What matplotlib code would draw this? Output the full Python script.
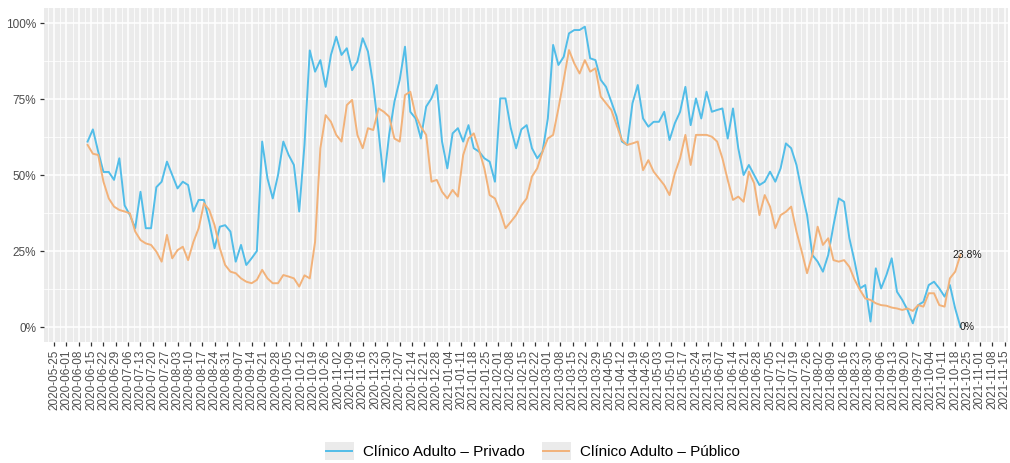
import matplotlib
matplotlib.use("Agg")
import matplotlib.pyplot as plt
import matplotlib.ticker as mticker
from matplotlib.legend_handler import HandlerBase
from matplotlib.lines import Line2D
from matplotlib.patches import Rectangle
import pandas as pd

# ocupação diária, uma leitura a cada 3 dias (em %)
start_date = "2020-06-13"
step_days = 3

privado = [
    61, 65, 57.7, 51, 51, 48.4, 55.5, 40, 36.8, 32.5,
    44.5, 32.5, 32.5, 46, 47.8, 54.4, 50, 45.6, 47.8, 46.7,
    38, 41.8, 41.8, 34.6, 25.9, 33, 33.5, 31.4, 21.5, 27,
    20.4, 22.6, 25, 61, 48.9, 42.3, 50, 61, 56.6, 53.3,
    38, 60,
    91, 84, 87.8, 79, 89.5, 95.5, 89.5, 91.7, 84.5, 87.3,
    95, 90.6, 79.6, 64.3, 47.8, 63.2, 74.1, 81.3, 92.2, 70.8,
    68.6, 62, 72.5, 75.2, 79.6, 61, 52.2, 63.7, 65.4, 61,
    66.4, 58.8, 57.7, 55.5, 54.4, 47.8, 75.2, 75.2, 65.4, 58.8,
    65,
    66.4, 58.8, 55.5, 57.7, 68.6, 92.8, 86.2, 88.9, 96.6, 97.7,
    97.7, 98.8, 88.4, 87.8, 81.3, 79, 74.1, 69.2, 61, 59.9,
    73.6, 79.6, 68.6, 65.9, 67.5, 67.5, 70.8, 61.5, 67, 70.8,
    79, 66.4, 75.2, 68.6, 77.4, 70.8, 71.4, 71.9, 62, 71.9,
    58.8, 50,
    53.3, 50, 46.7, 47.8, 51.1, 47.8, 52.2, 60.4, 58.8, 53.3,
    44.5, 36.8, 23.7, 21.5, 18.2, 23.7, 33.5, 42.3, 41.2, 29.2,
    21.5, 12.7, 13.8, 1.8, 19.3, 12.7, 17.1, 22.6, 11.6, 8.9,
    5.6, 1.2, 7.2, 8.3, 13.8, 14.9, 12.7, 10, 13.8, 6.1,
    0,
]

publico = [
    59.9, 57, 56.6, 47.8, 42.3, 39.6, 38.5, 38, 37.4, 31.4,
    28.6, 27.5, 27, 24.8, 21.5, 30.3, 22.6, 25.3, 26.4, 22,
    28, 32.5, 40.7, 38.5, 33.5, 25.9, 20.4, 18.2, 17.7, 16,
    14.9, 14.4, 15.5, 18.8, 16, 14.4, 14.4, 17.1, 16.6, 16,
    13.3, 17,
    16, 28, 58.8, 69.7, 67.5, 63.2, 61, 73, 74.7, 63.2,
    58.8, 65.4, 64.8, 71.9, 70.8, 69.2, 62, 61, 76.3, 77.4,
    69.7, 65.9, 63.2, 47.8, 48.4, 44.5, 42.3, 45.1, 42.9, 56.6,
    62, 63.7, 58.2, 52.2, 43.4, 42.3, 38, 32.5, 34.6, 36.8,
    40,
    42.3, 49.5, 52.2, 57.7, 62, 63.2, 71.9, 81.3, 91.1, 86.7,
    83.4, 87.8, 84, 85.1, 75.8, 73.6, 71.4, 66.4, 61.5, 59.9,
    60.4, 61, 51.6, 54.9, 51.1, 48.9, 46.7, 43.4, 50.5, 55.5,
    63.2, 53.3, 63.2, 63.2, 63.2, 62.6, 61, 55.5, 48.4, 41.8,
    42.9, 41.2,
    51.1, 47.3, 36.8, 43.4, 39.6, 32.5, 36.8, 37.9, 39.6, 31.4,
    24.8, 17.7, 23.7, 33, 27, 29.2, 22, 21.5, 22, 19.8,
    15.5, 12.2, 9.4, 8.9, 7.8, 7.2, 7, 6.4, 6.1, 5.6,
    6.1, 5.3, 7.2, 6.7, 11.1, 11.1, 7.2, 6.7, 16, 18.2,
    23.8,
]

labels = ["Clínico Adulto – Privado", "Clínico Adulto – Público"]
colors = ["#52BDE8", "#F2B27A"]

first_break = "2020-05-25"
last_break = "2021-11-15"

plt.rcParams["font.family"] = ["Liberation Sans", "DejaVu Sans"]


class KeyHandler(HandlerBase):
    # chave de legenda ao estilo ggplot: fundo cinza + linha
    def create_artists(self, legend, orig_handle, xdescent, ydescent,
                       width, height, fontsize, trans):
        bg = Rectangle((-xdescent, -ydescent), width, height,
                       facecolor="#EBEBEB", edgecolor="none", transform=trans)
        y = height / 2 - ydescent
        line = Line2D([-xdescent + 1, -xdescent + width - 1], [y, y],
                      color=orig_handle.get_color(),
                      linewidth=orig_handle.get_linewidth(), transform=trans)
        return [bg, line]


dates = pd.date_range(start_date, periods=len(privado), freq=f"{step_days}D")

fig = plt.figure(figsize=(10.1, 4.63), dpi=100)
ax = fig.add_axes([0.0436, 0.2609, 0.9545, 0.7222])
ax.set_facecolor("#EBEBEB")
for s in ax.spines.values():
    s.set_visible(False)

major = pd.date_range(first_break, last_break, freq="7D")
minor = pd.date_range(pd.Timestamp(first_break) - pd.Timedelta(hours=84),
                      pd.Timestamp(last_break) + pd.Timedelta(days=4), freq="7D")
ax.set_xticks(major)
ax.set_xticklabels([d.strftime("%Y-%m-%d") for d in major], rotation=90)
ax.set_xticks(minor, minor=True)
ax.set_yticks([0, 25, 50, 75, 100])
ax.set_yticks([12.5, 37.5, 62.5, 87.5], minor=True)
ax.yaxis.set_major_formatter(mticker.FuncFormatter(lambda v, p: f"{v:g}%"))

ax.grid(which="major", color="white", linewidth=1.1)
ax.grid(which="minor", color="white", linewidth=0.55)
ax.set_axisbelow(True)

ax.tick_params(which="major", length=3, width=0.9, color="#333333",
               labelsize=8.5, labelcolor="#4D4D4D", pad=2.5)
ax.tick_params(which="minor", length=0)

h1, = ax.plot(dates, privado, color=colors[0], linewidth=1.4, label=labels[0])
h2, = ax.plot(dates, publico, color=colors[1], linewidth=1.4, label=labels[1])

# rótulos do último valor de cada série
off = pd.Timedelta(days=4)
ax.text(dates[-1] + off, publico[-1], f"{publico[-1]:g}%", ha="center",
        va="center", fontsize=7.5, color="#1A1A1A")
ax.text(dates[-1] + off, privado[-1], f"{privado[-1]:g}%", ha="center",
        va="center", fontsize=7.5, color="#1A1A1A")

ax.set_xlim(pd.Timestamp(first_break) - pd.Timedelta(days=5.7),
            pd.Timestamp(first_break) + pd.Timedelta(days=541))
ax.set_ylim(-5, 105)

fig.legend([h1, h2], labels, loc="center", bbox_to_anchor=(0.527, 0.026),
           ncol=2, frameon=False, fontsize=11, handlelength=1.9,
           handleheight=1.4, handletextpad=0.6, columnspacing=1.1,
           handler_map={Line2D: KeyHandler()})

fig.savefig("out.png", dpi=100)
